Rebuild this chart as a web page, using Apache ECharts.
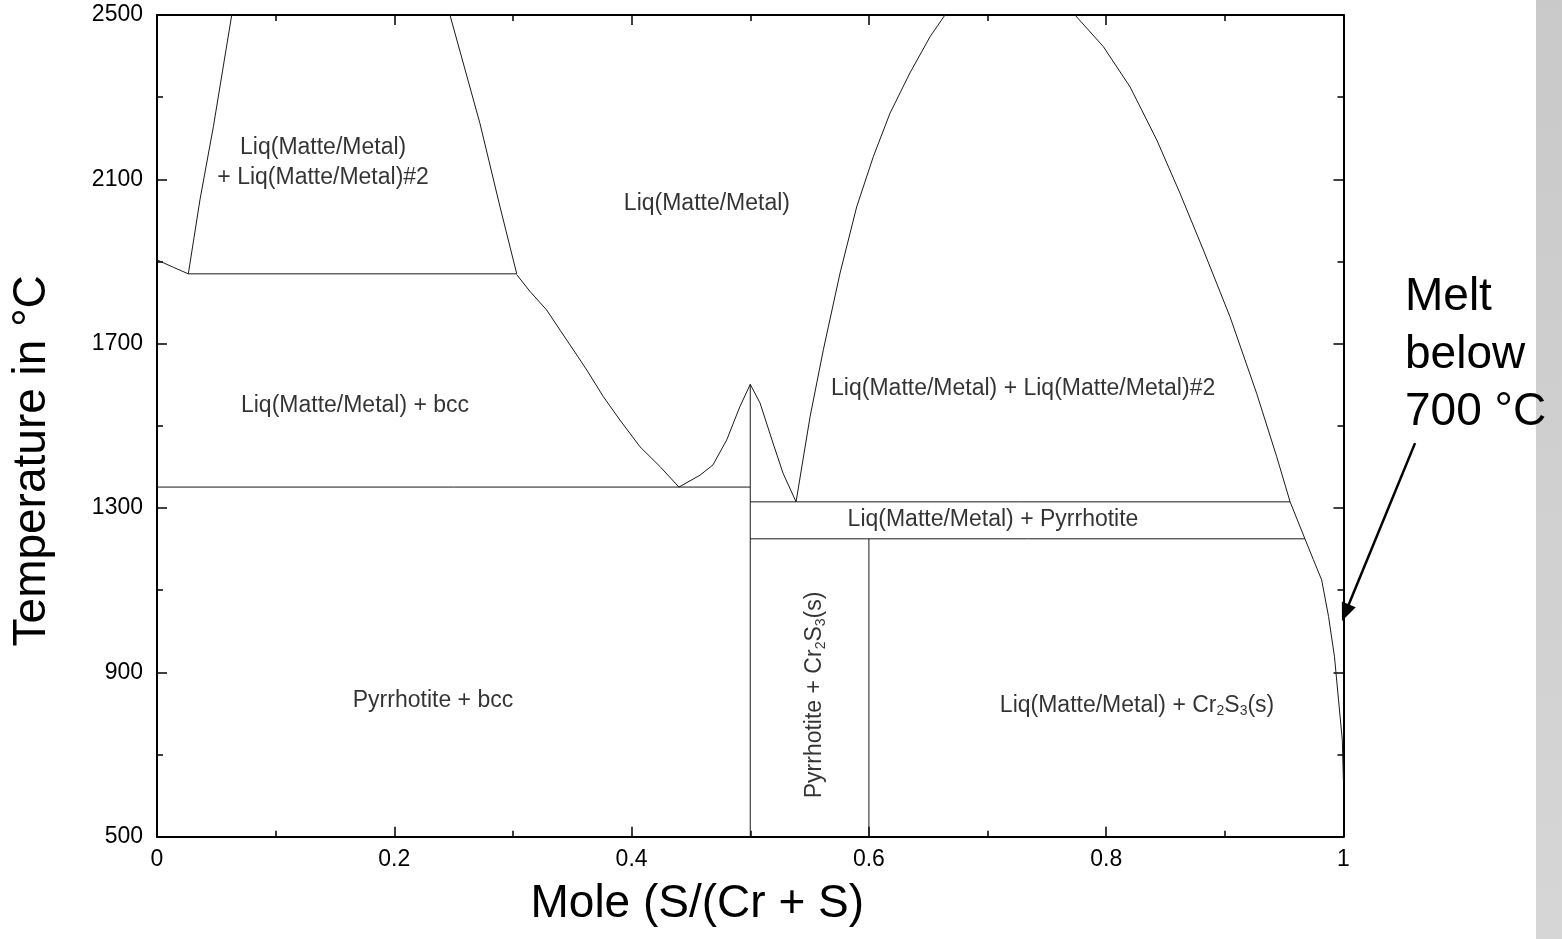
<!DOCTYPE html>
<html>
<head>
<meta charset="utf-8">
<script src="https://cdn.jsdelivr.net/npm/echarts@6/dist/echarts.min.js"></script>
<style>
html,body{margin:0;padding:0;background:#fff;}
#chart{width:1562px;height:939px;}
</style>
</head>
<body>
<div id="chart"></div>
<script>
// ---- Data: phase boundaries of the Cr–S system, [x = mole S/(Cr+S), T in °C] ----
const liquidusCrRich = [[0,1904],[0.0137,1886],[0.0264,1870]];
const gapLeftBoundary = [[0.0264,1870],[0.0362,2050],[0.0475,2228],[0.063,2500]];
const gapRightBoundary = [[0.2469,2500],[0.2722,2236],[0.2891,2033],[0.3032,1870]];
const liquidusBcc = [[0.3032,1868],[0.3144,1827],[0.3284,1782],[0.3397,1733],[0.3509,1685],[0.3622,1636],[0.3762,1571],[0.3902,1514],[0.4071,1449],[0.4239,1401],[0.4399,1351]];
const liquidusPyrrhotite = [[0.4399,1351],[0.4577,1380],[0.4686,1405],[0.4802,1466],[0.4913,1547],[0.5,1601],[0.5082,1556],[0.5192,1458],[0.5276,1385],[0.5386,1315]];
const domeLeft = [[0.5386,1315],[0.5504,1522],[0.5616,1685],[0.5757,1872],[0.5897,2033],[0.6037,2155],[0.6178,2261],[0.6346,2359],[0.6515,2447],[0.6641,2500]];
const domeRight = [[0.7737,2500],[0.7976,2423],[0.8201,2325],[0.8426,2196],[0.8622,2066],[0.8819,1928],[0.9043,1766],[0.9268,1579],[0.9437,1425],[0.955,1315]];
const liquidusSRich = [[0.955,1315],[0.9675,1225],[0.9745,1175],[0.9816,1125],[0.9874,1036],[0.9924,938],[0.9958,833],[0.999,735],[0.9999,638]];
const monotecticCr = [[0.0264,1870],[0.3032,1870]];
const eutecticBcc = [[0,1351],[0.5,1351]];
const pyrrhotiteLine = [[0.5,500],[0.5,1601]];
const monotecticS = [[0.5,1315],[0.955,1315]];
const cr2s3Horizontal = [[0.5,1225],[0.9675,1225]];
const cr2s3Vertical = [[0.6,500],[0.6,1225]];

// ---- Region labels (anchor in data coordinates) ----
const regionText = [
  'Liq(Matte/Metal)\n+ Liq(Matte/Metal)#2',
  'Liq(Matte/Metal)',
  'Liq(Matte/Metal) + bcc',
  'Liq(Matte/Metal) + Liq(Matte/Metal)#2',
  'Liq(Matte/Metal) + Pyrrhotite',
  'Pyrrhotite + bcc',
  'Liq(Matte/Metal) + Cr{sub|2}S{sub|3}(s)',
  'Pyrrhotite + Cr{sub|2}S{sub|3}(s)'
];
const regionX = [0.14, 0.4635, 0.1669, 0.73, 0.7046, 0.2326, 0.826, 0.5546];
const regionY = [2140, 2042, 1548, 1590, 1271, 830, 820, 845];
const regionRotate = [0, 0, 0, 0, 0, 0, 0, 90];

// ---- Axis settings ----
const xMin = 0, xMax = 1, xStep = 0.2;
const yMin = 500, yMax = 2500, yStep = 400;
const xTitle = 'Mole (S/(Cr + S)';
const yTitle = 'Temperature in °C';
const noteText = 'Melt\nbelow\n700 °C';
// arrow annotation (data coordinates of tail and head)
const arrowTail = [1.0603, 1458];
const arrowHead = [0.9987, 1025];

const FONT = '"Liberation Sans", Arial, sans-serif';
const chart = echarts.init(document.getElementById('chart'), null, {renderer: 'canvas'});

const curves = {
  liquidusCrRich, gapLeftBoundary, gapRightBoundary, liquidusBcc, liquidusPyrrhotite,
  domeLeft, domeRight, liquidusSRich, monotecticCr, eutecticBcc, pyrrhotiteLine,
  monotecticS, cr2s3Horizontal, cr2s3Vertical
};

const lineSeries = Object.keys(curves).map(function (k) {
  return {
    name: k, type: 'line', data: curves[k], showSymbol: false, symbol: 'none',
    smooth: false, clip: true, silent: true, animation: false,
    lineStyle: {color: '#1a1a1a', width: 1}, xAxisIndex: 0, yAxisIndex: 0, z: 3
  };
});

const labelSeries = regionText.map(function (t, i) {
  return {
    type: 'scatter', name: 'label' + i, symbolSize: 0, silent: true, animation: false,
    data: [[regionX[i], regionY[i]]], z: 4,
    label: {
      show: true, position: 'inside', formatter: t, rotate: regionRotate[i],
      color: '#000', fontSize: 23, fontFamily: FONT, lineHeight: i === 0 ? 30 : 26,
      align: 'center',
      rich: {sub: {fontSize: 14, lineHeight: 12, verticalAlign: 'bottom', fontFamily: FONT, color: '#000'}}
    }
  };
});

const axisCommon = {
  type: 'value',
  axisLine: {show: true, onZero: false, lineStyle: {color: '#000', width: 2}},
  axisTick: {show: true, inside: true, length: 10, lineStyle: {color: '#000', width: 1.5}},
  minorTick: {show: true, splitNumber: 2, length: 6, lineStyle: {color: '#000', width: 1.5}},
  splitLine: {show: false},
  minorSplitLine: {show: false}
};

const plainNumber = function (v) { return String(Math.round(v * 1000) / 1000); };

const option = {
  animation: false,
  backgroundColor: '#fff',
  grid: {left: 157, top: 15, width: 1186.5, height: 821.7, containLabel: false},
  xAxis: [
    Object.assign({}, axisCommon, {
      min: xMin, max: xMax, interval: xStep, position: 'bottom',
      axisLabel: {color: '#000', fontSize: 23, fontFamily: FONT, margin: 11, formatter: plainNumber},
      name: xTitle, nameLocation: 'middle', nameGap: 45,
      nameTextStyle: {color: '#000', fontSize: 46, fontFamily: FONT, padding: [0, 106, 0, 0]}
    }),
    Object.assign({}, axisCommon, {
      min: xMin, max: xMax, interval: xStep, position: 'top',
      axisLabel: {show: false}
    })
  ],
  yAxis: [
    Object.assign({}, axisCommon, {
      min: yMin, max: yMax, interval: yStep, position: 'left',
      axisLabel: {color: '#000', fontSize: 23, fontFamily: FONT, margin: 14, formatter: plainNumber},
      name: yTitle, nameLocation: 'middle', nameGap: 102, nameRotate: 90,
      nameTextStyle: {color: '#000', fontSize: 46, fontFamily: FONT, padding: [0, 70, 0, 0]}
    }),
    Object.assign({}, axisCommon, {
      min: yMin, max: yMax, interval: yStep, position: 'right',
      axisLabel: {show: false}
    })
  ],
  series: lineSeries.concat(labelSeries)
};
chart.setOption(option);

// Annotation graphics: slide side bar, note text and arrow
const pTail = chart.convertToPixel({gridIndex: 0}, arrowTail);
const pHead = chart.convertToPixel({gridIndex: 0}, arrowHead);
const dx = pHead[0] - pTail[0], dy = pHead[1] - pTail[1];
const len = Math.sqrt(dx * dx + dy * dy);
const ux = dx / len, uy = dy / len;
const headLen = 18, headHalf = 7.5;
const bx = pHead[0] - ux * headLen, by = pHead[1] - uy * headLen;
const nx = -uy * headHalf, ny = ux * headHalf;

chart.setOption({
  graphic: [
    {
      id: 'sidebar', type: 'rect', x: 1536, y: 0, silent: true,
      shape: {x: 0, y: 0, width: 26, height: 939},
      style: {fill: new echarts.graphic.LinearGradient(0, 0, 0, 1, [
        {offset: 0, color: '#c9c9c9'}, {offset: 1, color: '#d6d6d6'}]), stroke: null, lineWidth: 0}
    },
    {
      id: 'note', type: 'text', x: 1405, y: 269, silent: true,
      style: {text: noteText, fontSize: 46, lineHeight: 57.5, fontFamily: FONT,
              fill: '#000', align: 'left', verticalAlign: 'top'}
    },
    {
      id: 'arrowShaft', type: 'line', silent: true,
      shape: {x1: pTail[0], y1: pTail[1], x2: bx + ux * 2, y2: by + uy * 2},
      style: {stroke: '#000', lineWidth: 2.5}
    },
    {
      id: 'arrowHeadShape', type: 'polygon', silent: true,
      shape: {points: [[pHead[0], pHead[1]], [bx + nx, by + ny], [bx - nx, by - ny]]},
      style: {fill: '#000'}
    }
  ]
});
</script>
</body>
</html>
